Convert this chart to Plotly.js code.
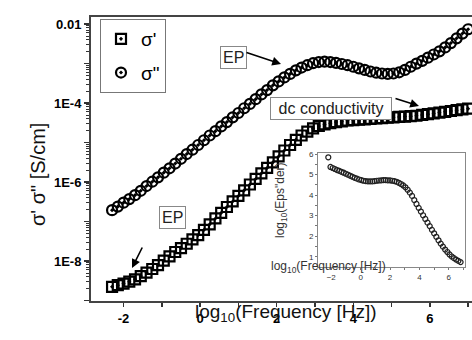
<!DOCTYPE html>
<html><head><meta charset="utf-8">
<script src="https://cdn.plot.ly/plotly-3.0.1.min.js"></script>
<style>html,body{margin:0;padding:0;overflow:hidden;background:#fff;width:472px;height:340px}#c{width:480px;height:340px}</style>
</head><body><div id="c"></div>
<script>
// log10(Frequency [Hz]) of the main series
const logFreq = [-2.30,-2.15,-2.00,-1.85,-1.70,-1.55,-1.40,-1.25,-1.10,-0.95,-0.80,-0.65,-0.50,-0.35,-0.20,-0.05,
0.10,0.25,0.40,0.55,0.70,0.85,1.00,1.15,1.30,1.45,1.60,1.75,1.90,2.05,2.20,2.35,
2.50,2.65,2.80,2.95,3.10,3.25,3.40,3.55,3.70,3.85,4.00,4.15,4.30,4.45,4.60,4.75,
4.90,5.05,5.20,5.35,5.50,5.65,5.80,5.95,6.10,6.25,6.40,6.55,6.70,6.85,7.00];
// log10 of sigma' [S/cm]
const logSigmaReal = [-8.65,-8.61,-8.57,-8.52,-8.46,-8.38,-8.29,-8.20,-8.10,-7.99,-7.88,-7.77,-7.67,-7.56,-7.45,-7.34,
-7.21,-7.07,-6.92,-6.78,-6.63,-6.49,-6.35,-6.21,-6.06,-5.92,-5.78,-5.64,-5.50,-5.35,-5.20,-5.06,
-4.93,-4.82,-4.72,-4.64,-4.58,-4.54,-4.51,-4.48,-4.46,-4.44,-4.43,-4.42,-4.41,-4.40,-4.39,-4.38,
-4.37,-4.36,-4.35,-4.34,-4.33,-4.32,-4.30,-4.28,-4.26,-4.24,-4.22,-4.20,-4.18,-4.16,-4.14];
// log10 of sigma'' [S/cm]
const logSigmaImag = [-6.71,-6.62,-6.52,-6.43,-6.33,-6.22,-6.10,-5.99,-5.88,-5.76,-5.65,-5.53,-5.41,-5.29,-5.18,-5.06,
-4.94,-4.82,-4.71,-4.59,-4.48,-4.36,-4.25,-4.13,-4.02,-3.90,-3.78,-3.67,-3.55,-3.45,-3.35,-3.26,
-3.17,-3.10,-3.04,-2.99,-2.96,-2.95,-2.96,-2.98,-3.01,-3.04,-3.08,-3.12,-3.16,-3.20,-3.23,-3.25,
-3.26,-3.25,-3.22,-3.16,-3.08,-3.00,-2.93,-2.85,-2.77,-2.69,-2.59,-2.48,-2.36,-2.24,-2.13];
// inset: log10(Frequency) and log10(Eps''der)
const insetLogFreq = [-2.20,-2.05,-1.90,-1.75,-1.60,-1.45,-1.30,-1.15,-1.00,-0.85,-0.70,-0.55,-0.40,-0.25,-0.10,
0.05,0.20,0.35,0.50,0.65,0.80,0.95,1.10,1.25,1.40,1.55,1.70,1.85,2.00,2.15,2.30,
2.45,2.60,2.75,2.90,3.05,3.20,3.35,3.50,3.65,3.80,3.95,4.10,4.25,4.40,4.55,4.70,
4.85,5.00,5.15,5.30,5.45,5.60,5.75,5.90,6.05,6.20,6.35,6.50,6.65,6.80];
const insetLogEps = [5.84,5.37,5.32,5.27,5.22,5.18,5.13,5.09,5.04,4.99,4.94,4.89,4.84,4.80,4.76,
4.73,4.70,4.68,4.67,4.67,4.67,4.68,4.70,4.71,4.72,4.73,4.73,4.72,4.72,4.70,4.68,
4.65,4.60,4.54,4.47,4.38,4.26,4.12,3.96,3.76,3.57,3.38,3.20,3.02,2.84,2.66,2.49,
2.31,2.14,1.97,1.80,1.64,1.49,1.35,1.23,1.11,1.01,0.93,0.86,0.80,0.74];

const xTickVals = [-2,-1,0,1,2,3,4,5,6,7];
const xTickText = ['-2','','0','','2','','4','','6',''];
const yTickVals = [1e-9,1e-8,1e-7,1e-6,1e-5,1e-4,1e-3,1e-2];
const yTickText = ['','1E-8','','1E-6','','1E-4','','0.01'];
const insetXTickVals = [-2,0,2,4,6];
const insetYTickVals = [1,2,3,4,5,6];
const names = ["σ'", 'σ"'];

const yMinor = [];
for (let k = -10; k <= -2; k++) for (let m = 2; m <= 9; m++) yMinor.push(m * Math.pow(10, k));

const FONT = 'Liberation Sans, Arial, sans-serif';
const traces = [
  {x: logFreq, y: logSigmaReal.map(v => Math.pow(10, v)), type: 'scatter', mode: 'markers', name: names[0],
   legendgroup: 'a', marker: {symbol: 'square-open-dot', size: 10, color: '#000', line: {width: 2.2}}},
  {x: logFreq, y: logSigmaImag.map(v => Math.pow(10, v)), type: 'scatter', mode: 'markers', name: names[1],
   legendgroup: 'b', marker: {symbol: 'circle-open-dot', size: 10, color: '#000', line: {width: 2.2}}},
  {x: insetLogFreq, y: insetLogEps, xaxis: 'x2', yaxis: 'y2', type: 'scatter', mode: 'markers', showlegend: false,
   marker: {symbol: 'circle-open', size: 5, color: '#222', line: {width: 1.2}}}
];

const W = 389, H = 284, L = 91, T = 17;
const px = x => (x - L) / W;
const py = y => (T + H - y) / H;

const boxAnn = (text, cx, cy, extra) => Object.assign({text, xref: 'paper', yref: 'paper', x: px(cx), y: py(cy),
  showarrow: false, font: {size: 16, color: '#222'}, bordercolor: '#888', borderwidth: 1, borderpad: 2, bgcolor: '#fff'}, extra || {});
const arrowAnn = (hx, hy, tx, ty) => ({text: '', xref: 'paper', yref: 'paper', x: px(hx), y: py(hy),
  ax: tx - hx, ay: ty - hy, showarrow: true, arrowhead: 2, arrowsize: 1.1, arrowwidth: 1.6, arrowcolor: '#000'});

const layout = {
  width: 480, height: 340,
  margin: {l: L, r: 480 - L - W, t: T, b: 340 - T - H},
  paper_bgcolor: '#fff', plot_bgcolor: '#fff',
  font: {family: FONT, color: '#000'},
  showlegend: true,
  legend: {x: px(100), y: py(19), xanchor: 'left', yanchor: 'top', bgcolor: 'rgba(0,0,0,0)',
    bordercolor: '#777', borderwidth: 1, font: {size: 19, family: FONT}, tracegroupgap: 6, itemwidth: 30},
  xaxis: {domain: [0, 1], range: [-2.85, 7.31], tickmode: 'array', tickvals: xTickVals, ticktext: xTickText,
    ticks: 'outside', ticklen: 4, tickwidth: 1.5, tickcolor: '#333', showline: true, linecolor: '#444', linewidth: 2,
    mirror: true, showgrid: false, zeroline: false, tickfont: {size: 13, weight: 'bold', family: FONT}},
  yaxis: {domain: [0, 1], type: 'log', range: [-9.01, -1.82], tickmode: 'array', tickvals: yTickVals, ticktext: yTickText,
    ticks: 'outside', ticklen: 5, tickwidth: 1.5, tickcolor: '#333', showline: true, linecolor: '#444', linewidth: 2,
    mirror: true, showgrid: false, zeroline: false, tickfont: {size: 13, weight: 'bold', family: FONT},
    minor: {tickvals: yMinor, ticks: 'outside', ticklen: 3, tickwidth: 1, tickcolor: '#333', showgrid: false}},
  xaxis2: {domain: [px(318), px(465)], anchor: 'y2', range: [-2.9, 7.1], tickmode: 'array', tickvals: insetXTickVals,
    ticks: 'outside', ticklen: 2, tickcolor: '#777', showline: true, linecolor: '#888', linewidth: 1, mirror: true,
    showgrid: false, zeroline: false, tickfont: {size: 8, color: '#333'},
    minor: {tickvals: [-1, 1, 3, 5, 7], ticks: 'outside', ticklen: 2, tickcolor: '#777'}},
  yaxis2: {domain: [py(267), py(153)], anchor: 'x2', range: [0.5, 6.05], tickmode: 'array', tickvals: insetYTickVals,
    ticks: 'outside', ticklen: 2, tickcolor: '#777', showline: true, linecolor: '#888', linewidth: 1, mirror: true,
    showgrid: false, zeroline: false, tickfont: {size: 8, color: '#333'},
    minor: {tickvals: [1.5, 2.5, 3.5, 4.5, 5.5], ticks: 'outside', ticklen: 2, tickcolor: '#777'}},
  annotations: [
    {text: 'σ\' σ" [S/cm]', xref: 'paper', yref: 'paper', x: px(25), y: py(175), textangle: -90, showarrow: false,
     font: {size: 20, color: '#111'}},
    {text: 'log<sub>10</sub>(Frequency [Hz])', xref: 'paper', yref: 'paper', x: px(285.5), y: py(327), showarrow: false,
     font: {size: 19, color: '#111'}},
    {text: 'log<sub>10</sub>(Eps"der)', xref: 'paper', yref: 'paper', x: px(281), y: py(200), textangle: -90, showarrow: false,
     font: {size: 12, color: '#333'}},
    {text: 'log<sub>10</sub>(Frequency [Hz])', xref: 'paper', yref: 'paper', x: px(388), y: py(277), showarrow: false,
     font: {size: 12, color: '#333'}},
    boxAnn('EP', 219.5, 46),
    boxAnn('EP', 159, 228.5),
    boxAnn('dc conductivity', 331, 97, {width: 116}),
    arrowAnn(281, 64, 245, 52),
    arrowAnn(132, 268, 143, 246),
    arrowAnn(419, 106, 394, 98)
  ]
};

Plotly.newPlot('c', traces, layout, {staticPlot: true, displayModeBar: false});
</script></body></html>
